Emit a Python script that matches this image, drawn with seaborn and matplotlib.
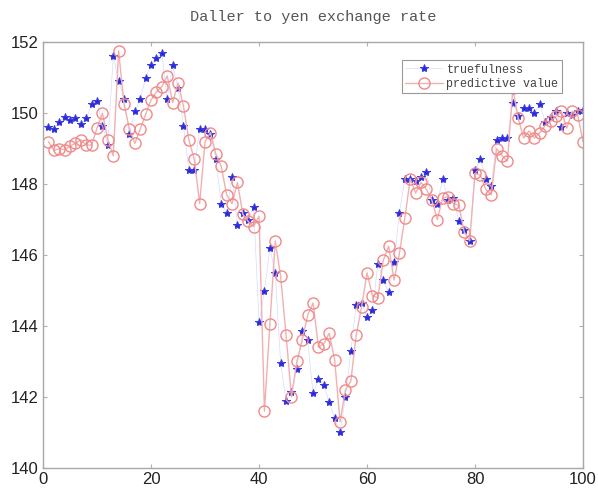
import numpy as np
import pandas as pd
import matplotlib
matplotlib.use("Agg")
import matplotlib.pyplot as plt
import seaborn as sns

# Observation index
day = list(range(1, 101))

# Actual USD/JPY rate
truefulness = [
    149.60, 149.55, 149.75, 149.90, 149.80, 149.85, 149.70, 149.85, 150.25, 150.35,
    149.65, 149.10, 151.60, 150.90, 150.40, 149.40, 150.05, 150.40, 151.00, 151.35,
    151.55, 151.70, 150.40, 151.35, 150.70, 149.65, 148.40, 148.40, 149.55, 149.55,
    149.40, 148.70, 147.45, 147.20, 148.20, 146.85, 147.20, 147.00, 147.35, 144.10,
    145.00, 146.20, 145.50, 142.95, 141.90, 142.15, 142.80, 143.85, 143.60, 142.10,
    142.50, 142.35, 141.85, 141.40, 141.00, 142.00, 143.30, 144.60, 144.65, 144.25,
    144.45, 145.75, 145.30, 144.95, 145.80, 147.20, 148.15, 148.15, 148.10, 148.20,
    148.35, 147.55, 147.45, 148.15, 147.55, 147.60, 146.95, 146.70, 146.40, 148.40,
    148.70, 148.15, 147.95, 149.25, 149.30, 149.30, 150.30, 149.92, 150.14, 150.14,
    150.00, 150.25, 149.75, 149.90, 150.05, 149.60, 150.00, 149.95, 150.05, 150.10,
]

# Model output
predictive = [
    149.20, 148.95, 149.00, 148.97, 149.07, 149.15, 149.25, 149.10, 149.10, 149.58,
    150.00, 149.25, 148.80, 151.75, 150.25, 149.55, 149.15, 149.55, 149.97, 150.37,
    150.60, 150.75, 151.05, 150.30, 150.85, 150.20, 149.25, 148.70, 147.45, 149.20,
    149.45, 148.85, 148.50, 147.70, 147.45, 148.05, 147.15, 146.95, 146.80, 147.10,
    141.60, 144.05, 146.40, 145.40, 143.75, 142.00, 143.00, 143.60, 144.30, 144.65,
    143.40, 143.50, 143.80, 143.05, 141.30, 142.20, 142.45, 143.75, 144.55, 145.50,
    144.85, 144.80, 145.85, 146.25, 145.30, 146.05, 147.05, 148.15, 147.75, 148.05,
    147.85, 147.55, 147.00, 147.60, 147.65, 147.45, 147.40, 146.65, 146.40, 148.30,
    148.25, 147.85, 147.70, 149.00, 148.80, 148.65, 150.70, 149.85, 149.30, 149.50,
    149.30, 149.45, 149.65, 149.77, 149.92, 150.05, 149.58, 150.05, 149.95, 149.20,
]

x_ticks = [0, 20, 40, 60, 80, 100]
y_ticks = [140, 142, 144, 146, 148, 150, 152]

df = pd.DataFrame({"day": day, "true": truefulness, "pred": predictive})

sns.set_style("white")
plt.rcParams["font.family"] = ["Liberation Sans", "DejaVu Sans"]

fig = plt.figure(figsize=(5.98, 4.91), dpi=100)
ax = fig.add_axes([0.072, 0.047, 0.903, 0.867])

sns.lineplot(data=df, x="day", y="true", ax=ax, color="#d4dcff", linewidth=0.5,
             marker="*", markersize=6, markerfacecolor="#2a2ad8",
             markeredgecolor="#3a3ae0", label="truefulness")
sns.lineplot(data=df, x="day", y="pred", ax=ax, color="#f2b0b0", linewidth=1.0,
             marker="o", markersize=8, markerfacecolor="none",
             markeredgecolor="#f08a8a", markeredgewidth=1.0,
             label="predictive value")

ax.set_xlim(0, 100)
ax.set_ylim(140, 152)
ax.set_xticks(x_ticks)
ax.set_yticks(y_ticks)
ax.set_xticklabels([str(t) for t in x_ticks], fontsize=12)
ax.set_yticklabels([str(t) for t in y_ticks], fontsize=12)
ax.set_xlabel("")
ax.set_ylabel("")
ax.tick_params(direction="in", length=3, color="#b0b0b0", top=True, right=True,
               bottom=True, left=True, labelcolor="#222222", pad=3)

for s in ax.spines.values():
    s.set_color("#a8a8a8")
    s.set_linewidth(1.0)

ax.set_title("Daller to yen exchange rate", fontsize=11, color="#555555",
             family=["Liberation Mono", "DejaVu Sans Mono"], pad=15)

leg = ax.legend(loc="upper right", bbox_to_anchor=(0.972, 0.972), frameon=True,
                fancybox=False, framealpha=1.0,
                prop={"family": ["Liberation Mono", "DejaVu Sans Mono"], "size": 8.5},
                handlelength=3.2, borderpad=0.3, labelspacing=0.2, handletextpad=0.3)
leg.get_frame().set_edgecolor("#999999")
leg.get_frame().set_linewidth(0.8)
for t in leg.get_texts():
    t.set_color("#444444")

fig.savefig("out.png", dpi=100)
